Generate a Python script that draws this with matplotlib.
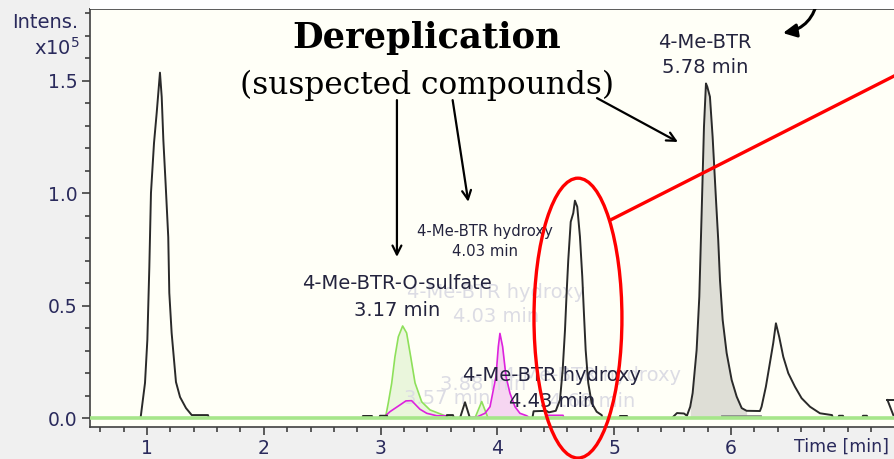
import matplotlib
matplotlib.use("Agg")
import matplotlib.pyplot as plt
from matplotlib.patches import Ellipse, FancyArrowPatch, Rectangle
from matplotlib.ticker import MultipleLocator, FixedLocator
import matplotlib.transforms as mtransforms

# ---------------- data (time [min], intensity [x1e5]) ----------------
bpc_time = [0.512, 0.940, 0.946, 0.983, 1.003, 1.020, 1.034, 1.060, 1.083, 1.111, 1.126,
            1.140, 1.160, 1.182, 1.191, 1.211, 1.248, 1.283, 1.334, 1.383, 1.522, 1.530,
            2.845, 2.849, 2.926, 2.930, 2.990, 2.995, 3.055, 3.060, 3.565, 3.568, 3.620,
            3.625, 3.680, 3.723, 3.765, 4.300, 4.310, 4.420, 4.440, 4.500, 4.536, 4.559,
            4.579, 4.593, 4.607, 4.628, 4.650, 4.664, 4.684, 4.707, 4.727, 4.741, 4.756,
            4.778, 4.807, 4.850, 4.893, 4.900, 5.045, 5.050, 5.110, 5.115, 5.495, 5.538,
            5.598, 5.623, 5.651, 5.672, 5.706, 5.729, 5.749, 5.769, 5.786, 5.797, 5.820,
            5.843, 5.872, 5.891, 5.906, 5.929, 5.963, 6.006, 6.049, 6.092, 6.134, 6.248,
            6.262, 6.299, 6.328, 6.362, 6.385, 6.413, 6.448, 6.491, 6.548, 6.605, 6.677,
            6.762, 6.865, 6.873, 6.920, 6.925, 6.959, 6.965, 7.125, 7.130, 7.164, 7.170,
            7.325]
bpc_int = [0.0, 0.0, 0.004, 0.156, 0.347, 0.671, 1.000, 1.222, 1.356, 1.535, 1.427,
           1.236, 1.036, 0.804, 0.556, 0.378, 0.160, 0.093, 0.044, 0.013, 0.013, 0.0,
           0.0, 0.009, 0.009, 0.0, 0.0, 0.010, 0.010, 0.0, 0.0, 0.013, 0.013,
           0.0, 0.0, 0.070, 0.0, 0.0, 0.030, 0.032, 0.025, 0.032, 0.080, 0.213,
           0.391, 0.556, 0.702, 0.872, 0.911, 0.966, 0.939, 0.806, 0.628, 0.467, 0.302,
           0.156, 0.067, 0.028, 0.013, 0.0, 0.0, 0.009, 0.009, 0.0, 0.0, 0.022,
           0.020, 0.010, 0.050, 0.111, 0.302, 0.539, 0.911, 1.295, 1.487, 1.473, 1.428,
           1.250, 0.969, 0.791, 0.613, 0.436, 0.289, 0.169, 0.095, 0.044, 0.032, 0.031,
           0.050, 0.139, 0.228, 0.333, 0.421, 0.361, 0.272, 0.199, 0.139, 0.088, 0.050,
           0.021, 0.013, 0.0, 0.0, 0.010, 0.010, 0.0, 0.0, 0.010, 0.010, 0.0,
           0.0]

# 4-Me-BTR-O-sulfate extracted ion chromatogram
sulf_time = [3.029, 3.046, 3.066, 3.095, 3.123, 3.152, 3.189, 3.223, 3.258, 3.295, 3.352,
             3.423, 3.537, 3.594, 3.808, 3.866, 3.920]
sulf_int = [0.0, 0.013, 0.067, 0.154, 0.272, 0.361, 0.409, 0.378, 0.272, 0.156, 0.072,
            0.036, 0.013, 0.0, 0.0, 0.073, 0.0]

# 4-Me-BTR hydroxy extracted ion chromatogram
hydr_time = [3.023, 3.080, 3.166, 3.217, 3.266, 3.337, 3.395, 3.480, 3.568, 3.620, 3.637,
             3.823, 3.894, 3.937, 3.965, 3.988, 4.008, 4.022, 4.045, 4.074, 4.108, 4.151,
             4.193, 4.251, 4.280, 4.420, 4.425, 4.562, 4.570]
hydr_int = [0.0, 0.028, 0.058, 0.076, 0.077, 0.039, 0.021, 0.010, 0.010, 0.010, 0.0,
            0.004, 0.021, 0.050, 0.124, 0.184, 0.317, 0.376, 0.317, 0.184, 0.110, 0.050,
            0.021, 0.010, 0.0, 0.0, 0.012, 0.012, 0.0]

# integrated region of the 4-Me-BTR peak and its integration baseline
integ_range = (5.65, 6.14)
integ_base_time = [5.923, 6.248]
integ_base_int = [0.011, 0.011]

x_ticks = [1, 2, 3, 4, 5, 6]
y_ticks = [0.0, 0.5, 1.0, 1.5]
y_ticklabels = ["0.0", "0.5", "1.0", "1.5"]

# ---------------- figure ----------------
W, H = 894, 459
fig = plt.figure(figsize=(W / 100, H / 100), dpi=100, facecolor="#f0f0f0")
fig.patches.append(Rectangle((90 / W, 1 - 9 / H), 1 - 90 / W, 9 / H, transform=fig.transFigure,
                             facecolor="white", edgecolor="none", zorder=0))
ax = fig.add_axes([90 / W, 1 - 427 / H, 1 - 90 / W, (427 - 9) / H])
ax.set_facecolor("#fffff7")
ax.set_xlim(0.512, 7.396)
ax.set_ylim(-0.04, 1.818)

for s in ["left", "bottom", "top"]:
    ax.spines[s].set_color("#404040")
    ax.spines[s].set_linewidth(1.2)
ax.spines["right"].set_visible(False)

tick_col = "#2a2a5c"
ax.xaxis.set_major_locator(FixedLocator(x_ticks))
ax.xaxis.set_minor_locator(MultipleLocator(0.2))
ax.yaxis.set_major_locator(FixedLocator(y_ticks))
ax.yaxis.set_minor_locator(MultipleLocator(0.1))
ax.set_yticklabels(y_ticklabels)
ax.tick_params(which="major", direction="out", length=6, width=1.2, color="#404040",
               labelsize=13.5, labelcolor=tick_col, pad=3)
ax.tick_params(which="minor", direction="out", length=3.5, width=1.2, color="#404040")

# fills
ax.fill_between(sulf_time, sulf_int, 0, color="#eaf6dc", zorder=1, lw=0)
h_t = [t for t in hydr_time if 3.85 <= t <= 4.28]
h_i = [v for t, v in zip(hydr_time, hydr_int) if 3.85 <= t <= 4.28]
ax.fill_between(h_t, h_i, 0, color="#f6d6f1", zorder=1, lw=0)
g_t = [t for t in bpc_time if integ_range[0] <= t <= integ_range[1]]
g_i = [v for t, v in zip(bpc_time, bpc_int) if integ_range[0] <= t <= integ_range[1]]
ax.fill_between(g_t, g_i, 0, color="#deded6", zorder=1, lw=0)

# faded background labels
fade = "#dcdce4"
lab_fs = 14
ax.text(3.988, 0.556, "4-Me-BTR hydroxy", ha="center", va="center", fontsize=lab_fs, color=fade, zorder=1.5)
ax.text(3.988, 0.449, "4.03 min", ha="center", va="center", fontsize=lab_fs, color=fade, zorder=1.5)
ax.text(3.877, 0.147, "3.88 min", ha="center", va="center", fontsize=lab_fs, color=fade, zorder=1.5)
ax.text(3.570, 0.085, "3.57 min", ha="center", va="center", fontsize=lab_fs, color=fade, zorder=1.5)
ax.text(4.810, 0.187, "4-Me-BTR hydroxy", ha="center", va="center", fontsize=lab_fs, color=fade, zorder=1.5)
ax.text(4.810, 0.075, "4.68 min", ha="center", va="center", fontsize=lab_fs, color=fade, zorder=1.5)

# traces
ax.plot(sulf_time, sulf_int, color="#8ee05a", lw=1.2, zorder=2)
ax.plot(hydr_time, hydr_int, color="#dd22dd", lw=1.2, zorder=2.1)
ax.plot(bpc_time, bpc_int, color="#2a2a2a", lw=1.4, zorder=2.2)
ax.plot(integ_base_time, integ_base_int, color="#8c8c8c", lw=2.0, zorder=2.3)
ax.plot([7.34, 7.396], [0.08, 0.08], color="#2a2a2a", lw=1.4, zorder=2.2, clip_on=True)
ax.plot([7.34, 7.39], [0.08, 0.013], color="#2a2a2a", lw=1.4, zorder=2.2)
ax.axhline(0.0, color="#a6e68a", lw=2.6, zorder=3)

# peak labels
dark = "#24243e"
ax.text(3.140, 0.600, "4-Me-BTR-O-sulfate", ha="center", va="center", fontsize=lab_fs, color=dark, zorder=4)
ax.text(3.140, 0.480, "3.17 min", ha="center", va="center", fontsize=lab_fs, color=dark, zorder=4)
ax.text(4.467, 0.187, "4-Me-BTR hydroxy", ha="center", va="center", fontsize=lab_fs, color=dark, zorder=4)
ax.text(4.467, 0.072, "4.43 min", ha="center", va="center", fontsize=lab_fs, color=dark, zorder=4)
ax.text(3.894, 0.827, "4-Me-BTR hydroxy", ha="center", va="center", fontsize=10.7, color=dark, zorder=4)
ax.text(3.894, 0.738, "4.03 min", ha="center", va="center", fontsize=10.7, color=dark, zorder=4)
ax.text(5.777, 1.667, "4-Me-BTR", ha="center", va="center", fontsize=lab_fs, color=dark, zorder=4)
ax.text(5.777, 1.556, "5.78 min", ha="center", va="center", fontsize=lab_fs, color=dark, zorder=4)

# titles
ax.text(3.397, 1.689, "Dereplication", ha="center", va="center", fontsize=25.4,
        fontweight="bold", family="DejaVu Serif", color="black", zorder=5)
ax.text(3.397, 1.480, "(suspected compounds)", ha="center", va="center", fontsize=22.5,
        family="DejaVu Serif", color="black", zorder=5)

# arrows
def arrow(p0, p1, style="->", rad=0.0, lw=1.6, ms=16):
    a = FancyArrowPatch(p0, p1, arrowstyle=style, mutation_scale=ms, lw=lw, color="black",
                        connectionstyle=f"arc3,rad={rad}", zorder=6, clip_on=False,
                        shrinkA=0, shrinkB=0)
    ax.add_patch(a)

arrow((3.140, 1.413), (3.140, 0.716))
arrow((3.617, 1.413), (3.751, 0.961))
arrow((4.853, 1.422), (5.546, 1.227))
arrow((6.745, 1.867), (6.445, 1.711), style="-|>", rad=-0.35, lw=2.2, ms=20)

# red highlight
ell = Ellipse((4.690, 0.444), 0.753, 1.244, fill=False, edgecolor="#ff0000", lw=2.4,
              zorder=7, clip_on=False)
ax.add_patch(ell)
ax.plot([4.979, 7.396], [0.883, 1.520], color="#ff0000", lw=2.4, zorder=7, clip_on=False)

# axis titles
ax.text(6.95, -0.048, "Time [min]", transform=mtransforms.blended_transform_factory(ax.transData, ax.transAxes),
        ha="center", va="center", fontsize=12.5, color=tick_col)
fig.text(78 / W, 1 - 22 / H, "Intens.", ha="right", va="center", fontsize=14, color=tick_col)
fig.text(80 / W, 1 - 48 / H, r"x10$^5$", ha="right", va="center", fontsize=14, color=tick_col)

fig.savefig("out.png", dpi=100, facecolor=fig.get_facecolor())
